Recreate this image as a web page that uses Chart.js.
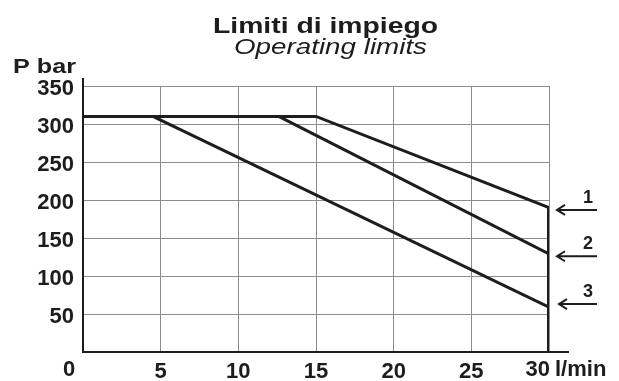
<!DOCTYPE html>
<html><head><meta charset="utf-8">
<script src="https://cdn.jsdelivr.net/npm/chart.js@4"></script>
<style>html,body{margin:0;padding:0;background:#fff}#wrap{width:619px;height:381px}</style>
</head><body><div id="wrap"><canvas id="c" width="619" height="381"></canvas></div>
<script>
// ---- data ----
const xTicks = [0, 5, 10, 15, 20, 25, 30];
const yTicks = [0, 50, 100, 150, 200, 250, 300, 350];
const curve1X = [0, 15, 30];
const curve1Y = [310, 310, 190];
const curve2X = [12.6, 30];
const curve2Y = [310, 129];
const curve3X = [4.5, 30];
const curve3Y = [310, 59];
const limitX = [30, 30];
const limitY = [0, 190];
const curveLabels = ['1', '2', '3'];
const arrowY = [187, 126, 63];
const titleText = 'Limiti di impiego';
const subtitleText = 'Operating limits';
const yUnit = 'P bar';
const xUnit = 'l/min';

const INK = '#1e1c1d';
const FONT = '"Liberation Sans", Arial, sans-serif';
const pts = (xs, ys) => xs.map((x, i) => ({x, y: ys[i]}));

const ds = (xs, ys, w) => ({
  data: pts(xs, ys), showLine: true, borderColor: INK, borderWidth: w,
  pointRadius: 0, tension: 0, fill: false, borderCapStyle: 'butt', borderJoinStyle: 'miter'
});

function stretchText(ctx, txt, font, left, baseline, targetW) {
  ctx.save();
  ctx.font = font;
  ctx.textAlign = 'left';
  ctx.textBaseline = 'alphabetic';
  const w = ctx.measureText(txt).width;
  ctx.translate(left, baseline);
  ctx.scale(targetW / w, 1);
  ctx.fillText(txt, 0, 0);
  ctx.restore();
}

const decor = {
  id: 'decor',
  afterDraw(chart) {
    const {ctx, chartArea: a, scales: {x, y}} = chart;
    ctx.save();
    ctx.strokeStyle = INK;
    ctx.fillStyle = INK;
    // axis extensions
    ctx.lineWidth = 2;
    ctx.beginPath();
    ctx.moveTo(a.right - 1, Math.round(a.bottom));
    ctx.lineTo(a.right + 20, Math.round(a.bottom));
    ctx.moveTo(a.left, a.top + 1);
    ctx.lineTo(a.left, a.top - 8);
    ctx.stroke();
    // titles
    stretchText(ctx, titleText, 'bold 22px ' + FONT, 213, 33, 225);
    stretchText(ctx, subtitleText, 'italic 22px ' + FONT, 234, 54, 193);
    stretchText(ctx, yUnit, 'bold 21px ' + FONT, 13, 73, 63);
    // corner 0 and x unit
    ctx.font = 'bold 22px ' + FONT;
    ctx.textBaseline = 'middle';
    const ly = a.bottom + 18;
    ctx.textAlign = 'center';
    ctx.fillText('0', a.left - 14, ly);
    ctx.textAlign = 'right';
    ctx.fillText(String(xTicks[xTicks.length - 1]), a.right + 1, ly);
    ctx.textAlign = 'left';
    ctx.fillText(xUnit, a.right + 6, ly);
    // arrows
    ctx.lineWidth = 2;
    curveLabels.forEach((lab, i) => {
      const py = y.getPixelForValue(arrowY[i]);
      const x1 = a.right + (i === 2 ? 10 : 8);
      const x2 = a.right + 48;
      ctx.beginPath();
      ctx.moveTo(x2, py);
      ctx.lineTo(x1, py);
      ctx.moveTo(x1 + 8, py - 5);
      ctx.lineTo(x1, py);
      ctx.lineTo(x1 + 8, py + 5);
      ctx.stroke();
      ctx.font = 'bold 18px ' + FONT;
      ctx.textAlign = 'center';
      ctx.textBaseline = 'middle';
      ctx.fillText(lab, a.right + 39, py - 12);
    });
    ctx.restore();
  }
};

new Chart(document.getElementById('c'), {
  type: 'scatter',
  data: {
    datasets: [
      ds(curve1X, curve1Y, 3),
      ds(curve2X, curve2Y, 3),
      ds(curve3X, curve3Y, 3),
      ds(limitX, limitY, 4)
    ]
  },
  options: {
    responsive: false,
    animation: false,
    devicePixelRatio: 1,
    layout: {padding: {top: 86, right: 70, left: 0, bottom: 0}},
    plugins: {legend: {display: false}, title: {display: false}, tooltip: {enabled: false}},
    scales: {
      x: {
        type: 'linear', min: xTicks[0], max: xTicks[xTicks.length - 1],
        afterBuildTicks: s => { s.ticks = xTicks.map(v => ({value: v})); },
        afterFit: s => { s.height = 29; },
        grid: {color: '#8c8c8c', lineWidth: 1, drawTicks: false},
        border: {display: true, color: INK, width: 2},
        ticks: {
          padding: 7, color: INK, font: {family: FONT, size: 22, weight: 'bold'},
          maxRotation: 0, autoSkip: false,
          callback: v => (v === xTicks[0] || v === xTicks[xTicks.length - 1]) ? '' : String(v)
        }
      },
      y: {
        type: 'linear', min: yTicks[0], max: yTicks[yTicks.length - 1],
        afterBuildTicks: s => { s.ticks = yTicks.map(v => ({value: v})); },
        afterFit: s => { s.width = 83; },
        grid: {color: '#8c8c8c', lineWidth: 1, drawTicks: false},
        border: {display: true, color: INK, width: 2},
        ticks: {
          padding: 9, labelOffset: 3, color: INK, font: {family: FONT, size: 22, weight: 'bold'},
          autoSkip: false,
          callback: v => v === yTicks[0] ? '' : String(v)
        }
      }
    }
  },
  plugins: [decor]
});
</script>
</body></html>
